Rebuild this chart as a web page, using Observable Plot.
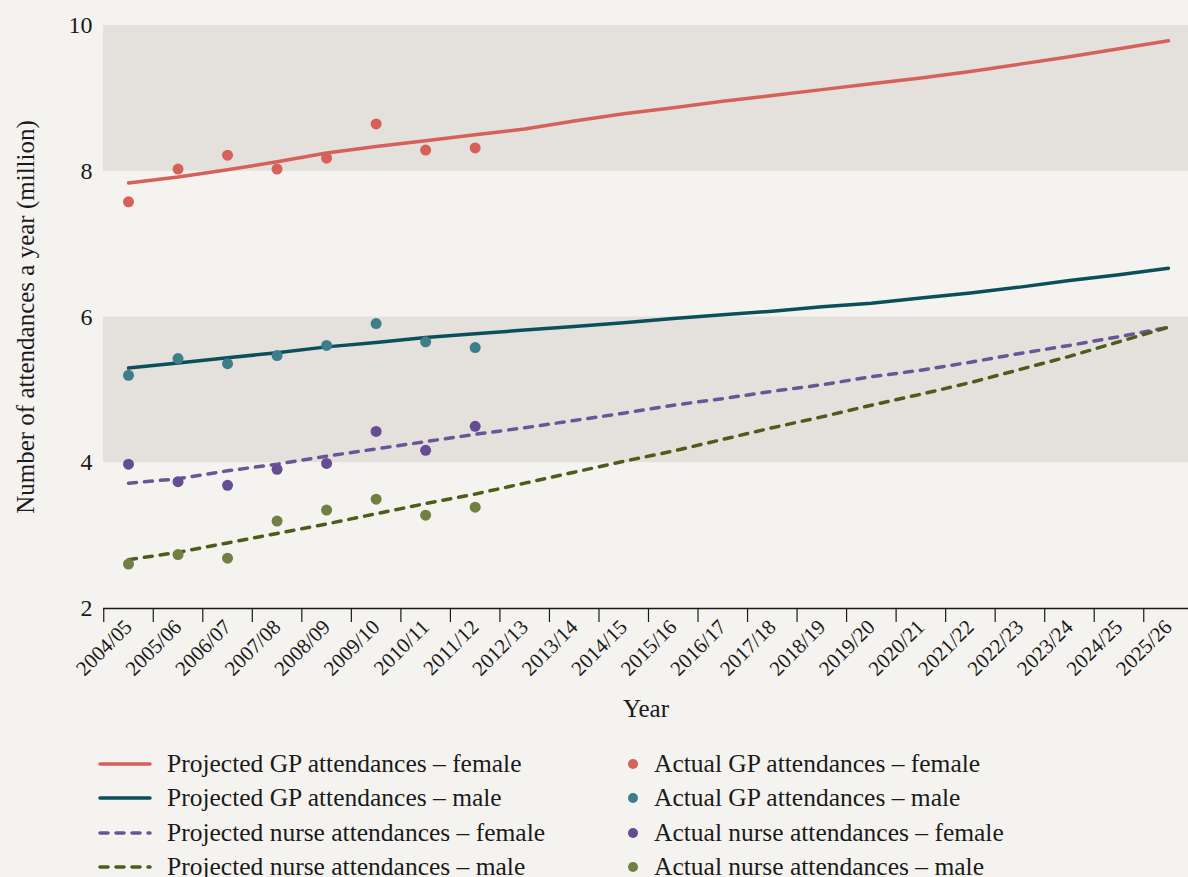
<!DOCTYPE html>
<html><head><meta charset="utf-8">
<script src="https://cdn.jsdelivr.net/npm/d3@7"></script>
<script src="https://cdn.jsdelivr.net/npm/@observablehq/plot@0.6"></script>
<style>
html,body{margin:0;padding:0;background:#f4f3ef;}
body{width:1188px;height:877px;overflow:hidden;font-family:"Liberation Serif",serif;color:#1a1a1a;position:relative;}
#legend{position:absolute;left:0;top:747px;width:1188px;}
.row{position:absolute;height:34px;display:flex;align-items:center;font-size:25.5px;white-space:nowrap;}
.row svg{flex:none;}
</style></head>
<body><div id="chart"></div><div id="legend"></div>
<script>
const years = ["2004/05","2005/06","2006/07","2007/08","2008/09","2009/10","2010/11","2011/12","2012/13","2013/14","2014/15","2015/16","2016/17","2017/18","2018/19","2019/20","2020/21","2021/22","2022/23","2023/24","2024/25","2025/26"];
const yTicks = [2,4,6,8,10];
const bandRanges = [[4,6],[8,10]];

const projGPFemale    = [7.84,7.92,8.02,8.13,8.25,8.34,8.42,8.50,8.58,8.69,8.79,8.87,8.96,9.04,9.12,9.20,9.28,9.37,9.47,9.57,9.68,9.79];
const projGPMale      = [5.30,5.37,5.44,5.51,5.59,5.65,5.72,5.77,5.82,5.87,5.92,5.98,6.03,6.08,6.14,6.19,6.26,6.33,6.41,6.50,6.58,6.67];
const projNurseFemale = [3.72,3.78,3.89,3.98,4.09,4.19,4.29,4.39,4.48,4.58,4.68,4.79,4.88,4.98,5.07,5.18,5.27,5.38,5.50,5.61,5.73,5.86];
const projNurseMale   = [2.67,2.77,2.90,3.03,3.16,3.30,3.44,3.57,3.72,3.87,4.02,4.16,4.32,4.48,4.63,4.79,4.94,5.10,5.28,5.46,5.66,5.86];

const actGPFemale    = [7.58,8.03,8.22,8.03,8.18,8.65,8.29,8.32];
const actGPMale      = [5.20,5.43,5.36,5.47,5.61,5.91,5.66,5.58];
const actNurseFemale = [3.98,3.74,3.69,3.91,3.99,4.43,4.17,4.50];
const actNurseMale   = [2.61,2.74,2.69,3.20,3.35,3.50,3.28,3.39];

const seriesNames = [
  "Projected GP attendances – female","Projected GP attendances – male",
  "Projected nurse attendances – female","Projected nurse attendances – male",
  "Actual GP attendances – female","Actual GP attendances – male",
  "Actual nurse attendances – female","Actual nurse attendances – male"
];
const lineColors = ["#d6605a","#0a4f5b","#6a5597","#4e5c1b"];
const dotColors  = ["#d6605a","#3e7d8c","#644d92","#707f43"];
const dashes = [null,null,"8,8","8,8"];

const toRows = arr => arr.map((v,i)=>({year:years[i], value:v}));
const proj = [projGPFemale,projGPMale,projNurseFemale,projNurseMale].map(toRows);
const act = [actGPFemale,actGPMale,actNurseFemale,actNurseMale].map(toRows);
const bands = bandRanges.map(([a,b])=>({y1:a,y2:b}));

const x0 = 128, x1 = 1168;
const step = (x1-x0)/(years.length-1);

const plot = Plot.plot({
  width:1188, height:730,
  marginLeft:103, marginRight:0, marginTop:25, marginBottom:122,
  style:{fontFamily:"Liberation Serif, serif", background:"transparent", color:"#1a1a1a", overflow:"visible"},
  x:{type:"point", domain:years, range:[x0,x1], padding:0, round:false},
  y:{domain:[2,10]},
  marks:[
    Plot.rect(bands,{y1:"y1",y2:"y2",fill:"#e4e0db"}),
    Plot.ruleY([2],{stroke:"#1a1a1a",strokeWidth:1.4}),
    Plot.axisX({tickSize:14, fill:"none", dx:-step/2, stroke:"#1a1a1a", strokeWidth:1.2}),
    Plot.axisX({tickSize:0, tickRotate:-45, tickPadding:15, fontSize:21, label:null}),
    Plot.axisY({ticks:yTicks, tickSize:0, tickPadding:11, fontSize:24, label:null}),
    Plot.text(["Number of attendances a year (million)"],{text:d=>d, frameAnchor:"left", textAnchor:"middle", rotate:-90, dx:-78, fontSize:25, lineAnchor:"middle"}),
    Plot.text(["Year"],{text:d=>d, frameAnchor:"bottom", textAnchor:"middle", dy:100, fontSize:25, lineAnchor:"middle"}),
    ...proj.map((d,i)=>Plot.line(d,{x:"year",y:"value",stroke:lineColors[i],strokeWidth:3.5,strokeDasharray:dashes[i],strokeLinecap:"round"})),
    ...act.map((d,i)=>Plot.dot(d,{x:"year",y:"value",r:5.5,fill:dotColors[i]}))
  ]
});
document.getElementById("chart").append(plot);

// legend
const legend = document.getElementById("legend");
const rowH = 34.3;
seriesNames.forEach((name,k)=>{
  const col = k<4 ? 0 : 1, r = k%4, i = k%4;
  const div = document.createElement("div");
  div.className="row";
  div.style.top = (r*rowH)+"px";
  div.style.left = (col===0 ? 98 : 627)+"px";
  let sw;
  if (col===0){
    sw = `<svg width="54" height="20" style="margin-right:15px"><line x1="2" x2="52" y1="10" y2="10" stroke="${lineColors[i]}" stroke-width="3.5" stroke-linecap="round" ${dashes[i]?`stroke-dasharray="${dashes[i]}"`:""}/></svg>`;
  } else {
    sw = `<svg width="12" height="20" style="margin-right:15px"><circle cx="6" cy="10" r="5" fill="${dotColors[i]}"/></svg>`;
  }
  div.innerHTML = sw + `<span>${name}</span>`;
  legend.append(div);
});
</script></body></html>
